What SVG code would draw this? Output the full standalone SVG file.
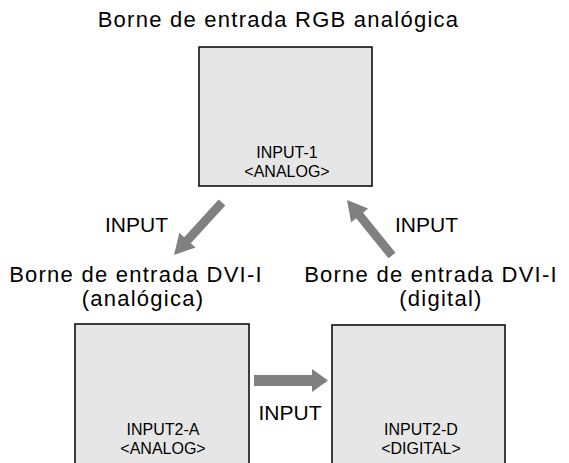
<svg xmlns="http://www.w3.org/2000/svg" width="569" height="463" viewBox="0 0 569 463">
<style>
.lbl{font-family:"Liberation Sans",Arial,Helvetica,sans-serif;font-size:22px;fill:#000;text-anchor:middle;letter-spacing:1.25px}
.inp{font-family:"Liberation Sans",Arial,Helvetica,sans-serif;font-size:21px;fill:#000;text-anchor:middle}
.box{fill:#e6e6e6;stroke:#000;stroke-width:1.5}
.btxt{font-family:"Liberation Sans",Arial,Helvetica,sans-serif;font-size:16px;fill:#000;text-anchor:middle}
.arr{fill:#808080;stroke:none}
</style>
<rect width="569" height="463" fill="#fff"/>
<g id="title"><text class="lbl" x="278.5" y="27">Borne de entrada RGB analógica</text></g>
<g id="input1">
<rect class="box" x="199" y="47" width="173" height="139"/>
<text class="btxt" x="287" y="157.5">INPUT-1</text>
<text class="btxt" x="287" y="176.5">&lt;ANALOG&gt;</text>
</g>
<g id="label-analog">
<text class="lbl" x="136" y="282">Borne de entrada DVI-I</text>
<text class="lbl" x="143" y="306">(analógica)</text>
</g>
<g id="label-digital">
<text class="lbl" x="431" y="282">Borne de entrada DVI-I</text>
<text class="lbl" x="441" y="306">(digital)</text>
</g>
<g id="input2a">
<rect class="box" x="75" y="324" width="174" height="150"/>
<text class="btxt" x="163" y="435">INPUT2-A</text>
<text class="btxt" x="163" y="454">&lt;ANALOG&gt;</text>
</g>
<g id="input2d">
<rect class="box" x="332" y="325" width="173" height="150"/>
<text class="btxt" x="421" y="435">INPUT2-D</text>
<text class="btxt" x="421" y="454">&lt;DIGITAL&gt;</text>
</g>
<g id="connectors">
<polygon class="arr" points="225.3,205.5 190.8,243.3 195.6,247.6 174,255 179.4,232.8 184.2,237.2 218.7,199.5"/>
<polygon class="arr" points="395.5,252.7 363.1,212.7 368.1,208.6 347,200 351.1,222.4 356.1,218.3 388.5,258.3"/>
<polygon class="arr" points="254,375 312,375 312,369 328,380.5 312,392 312,386 254,386"/>
<text class="inp" x="136.5" y="232">INPUT</text>
<text class="inp" x="426.5" y="232">INPUT</text>
<text class="inp" x="290" y="420">INPUT</text>
</g>
</svg>
